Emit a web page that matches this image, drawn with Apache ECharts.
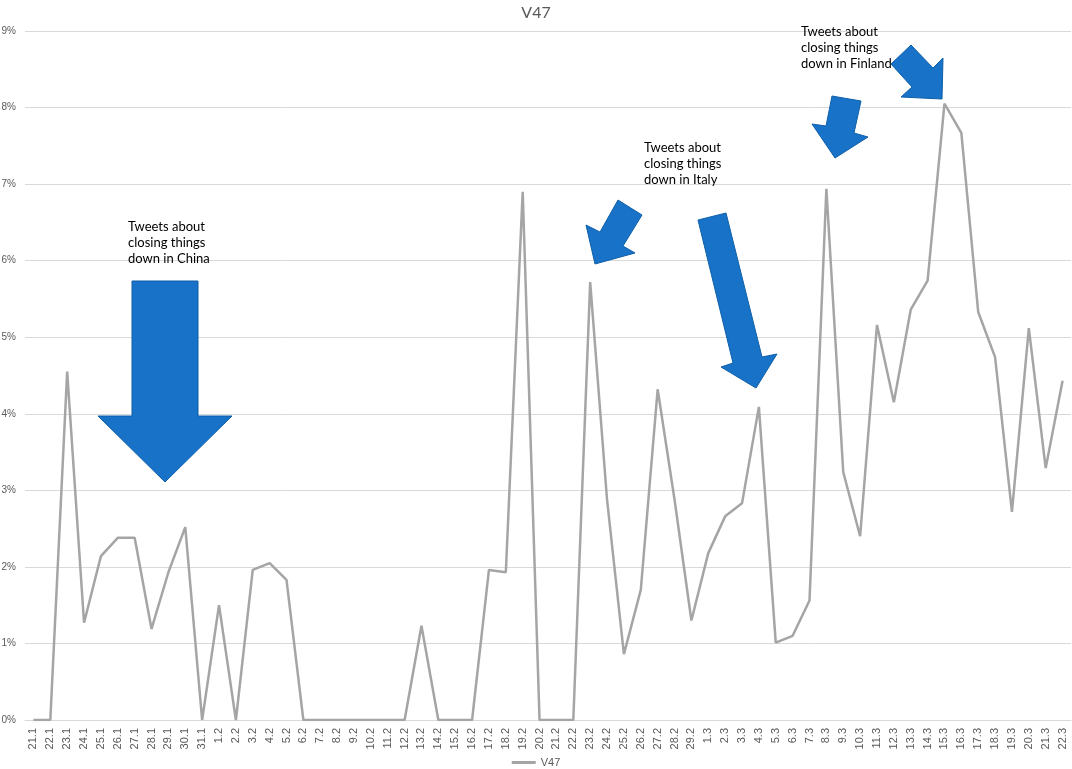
<!DOCTYPE html>
<html>
<head>
<meta charset="utf-8">
<script src="https://cdn.jsdelivr.net/npm/echarts@6/dist/echarts.min.js"></script>
<style>
  html, body { margin: 0; padding: 0; background: #fff; }
  #main { width: 1072px; height: 769px; }
</style>
</head>
<body>
<div id="main"></div>
<script>
// dates (day.month), 21.1 - 22.3
var days = ['21.1','22.1','23.1','24.1','25.1','26.1','27.1','28.1','29.1','30.1','31.1',
  '1.2','2.2','3.2','4.2','5.2','6.2','7.2','8.2','9.2','10.2','11.2','12.2','13.2','14.2','15.2',
  '16.2','17.2','18.2','19.2','20.2','21.2','22.2','23.2','24.2','25.2','26.2','27.2','28.2','29.2',
  '1.3','2.3','3.3','4.3','5.3','6.3','7.3','8.3','9.3','10.3','11.3','12.3','13.3','14.3','15.3',
  '16.3','17.3','18.3','19.3','20.3','21.3','22.3'];

// share of tweets, percent
var v47 = [0, 0, 4.55, 1.27, 2.14, 2.38, 2.38, 1.19, 1.93, 2.52, 0,
  1.50, 0, 1.96, 2.05, 1.83, 0, 0, 0, 0, 0, 0, 0, 1.23, 0, 0,
  0, 1.96, 1.93, 6.90, 0, 0, 0, 5.72, 2.88, 0.86, 1.70, 4.32, 2.88, 1.30,
  2.18, 2.66, 2.83, 4.09, 1.01, 1.10, 1.56, 6.94, 3.24, 2.40, 5.16, 4.15, 5.36, 5.74, 8.05,
  7.67, 5.33, 4.74, 2.72, 5.12, 3.29, 4.43];

var yTicks = [0, 1, 2, 3, 4, 5, 6, 7, 8, 9];

var myChart = echarts.init(document.getElementById('main'));

var arrowStyle = { fill: '#1772C8', stroke: '#0F5FA8', lineWidth: 1 };
var noteStyle = { fill: '#000', font: '13px Lato, "Open Sans", sans-serif', lineHeight: 16 };

var option = {
    animation: false,
    title: {
        text: 'V47',
        left: 'center',
        top: 0,
        textStyle: { fontSize: 16, fontWeight: 'normal', color: '#595959', fontFamily: 'Lato, "Open Sans", sans-serif' }
    },
    legend: {
        top: 752,
        left: 'center',
        icon: 'rect',
        itemWidth: 24,
        itemHeight: 3,
        itemGap: 4,
        textStyle: { color: '#595959', fontSize: 11 },
        data: ['V47']
    },
    grid: { left: 25, right: 1, top: 31, bottom: 49, outerBoundsMode: 'none' },
    xAxis: {
        type: 'category',
        data: days,
        boundaryGap: true,
        axisLine: { lineStyle: { color: '#D9D9D9' } },
        axisTick: { show: false },
        axisLabel: { interval: 0, rotate: 90, color: '#595959', fontSize: 11, margin: 8 }
    },
    yAxis: {
        type: 'value',
        min: yTicks[0],
        max: yTicks[yTicks.length - 1],
        interval: 1,
        axisLine: { show: false },
        axisTick: { show: false },
        axisLabel: { formatter: '{value}%', color: '#595959', fontSize: 10, margin: 9 },
        splitLine: { lineStyle: { color: '#D9D9D9', width: 1 } }
    },
    series: [
        {
            name: 'V47',
            type: 'line',
            data: v47,
            symbol: 'none',
            lineStyle: { color: '#A5A5A5', width: 2.5 },
            itemStyle: { color: '#A5A5A5' }
        }
    ],
    graphic: [
        // China
        { type: 'polygon', shape: { points: [[132,281],[198,281],[198,416],[232,416],[165,482],[98,416],[132,416]] }, style: arrowStyle, z: 10 },
        { type: 'text', left: 128, top: 219, style: Object.assign({ text: 'Tweets about\nclosing things\ndown in China' }, noteStyle), z: 10 },
        // Italy
        { type: 'polygon', shape: { points: [[618,200],[642,215],[623,246],[635,253],[595,264],[586,225],[600,232]] }, style: arrowStyle, z: 10 },
        { type: 'polygon', shape: { points: [[698,220],[726,213],[762,357],[777,354],[756,388],[721,367],[733,363]] }, style: arrowStyle, z: 10 },
        { type: 'text', left: 644, top: 140, style: Object.assign({ text: 'Tweets about\nclosing things\ndown in Italy' }, noteStyle), z: 10 },
        // Finland
        { type: 'polygon', shape: { points: [[832,96],[861,101],[854,133],[868,137],[835,158],[812,124],[826,126]] }, style: arrowStyle, z: 10 },
        { type: 'polygon', shape: { points: [[891,64],[911,45],[933,68],[943,58],[942,99],[901,97],[912,87]] }, style: arrowStyle, z: 10 },
        { type: 'text', left: 801, top: 24, style: Object.assign({ text: 'Tweets about\nclosing things\ndown in Finland' }, noteStyle), z: 10 }
    ]
};

myChart.setOption(option);
</script>
</body>
</html>
